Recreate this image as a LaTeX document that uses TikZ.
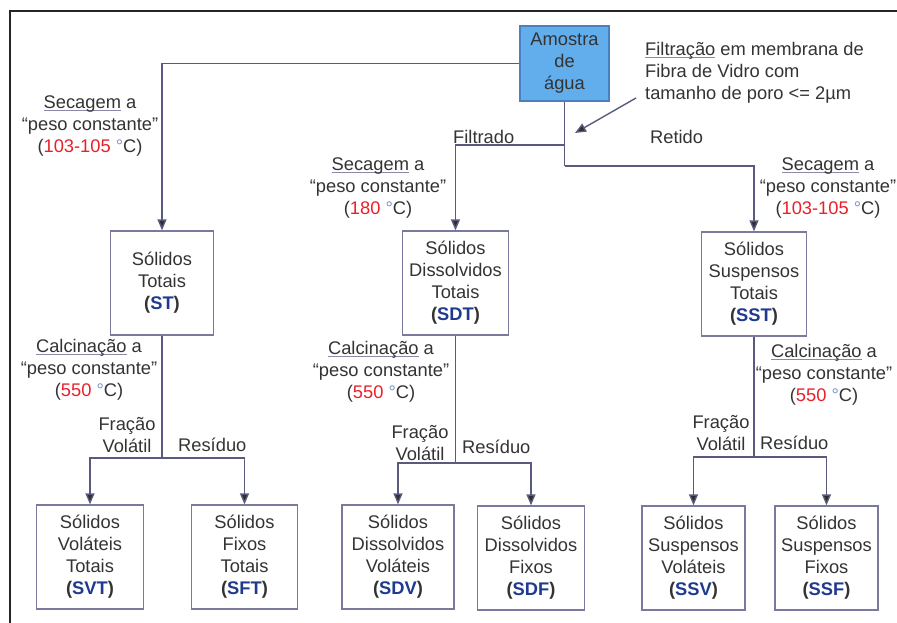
\documentclass[tikz,border=0pt]{standalone}
\usepackage{fontspec}
\setmainfont{Liberation Sans}
\usetikzlibrary{arrows.meta}
\definecolor{txt}{HTML}{333333}
\definecolor{boxc}{HTML}{7A7A9C}
\definecolor{linec}{HTML}{5A5A7E}
\definecolor{redc}{HTML}{E8202A}
\definecolor{bluec}{HTML}{1F3A8F}
\definecolor{degc}{HTML}{7A92C8}
\definecolor{ulc}{HTML}{8A8AA8}
\definecolor{amfill}{HTML}{62AEEC}
\definecolor{amdraw}{HTML}{4A80C0}
\newcommand\ulx[1]{\setbox0\hbox{#1}\rlap{\color{ulc}\rule[-2.6pt]{\wd0}{0.9pt}}\box0\relax}
\newcommand\rn[1]{{\color{redc}#1}}
\newcommand\ab[1]{\textbf{(\textcolor{bluec}{#1})}}
\newcommand\dgc{{\color{degc}°}C}
\begin{document}
\begin{tikzpicture}[x=1pt,y=-1pt,
  every node/.style={font=\fontsize{18.3}{22}\selectfont, text=txt, inner sep=0pt, align=center},
  box/.style={draw=boxc, line width=1.3pt, minimum height=104pt},
  conn/.style={draw=linec, line width=1.4pt},
  arr/.style={conn, -{Triangle[width=9pt,length=11pt,fill=txt!90!black]}}]
\useasboundingbox (0,0) rectangle (897,623);
\draw[line width=2pt, draw=black!85] (10,623) -- (10,11) -- (897,11);

% top box
\node[draw=amdraw, fill=amfill, line width=1.3pt, minimum width=89pt, minimum height=75pt] (am) at (564.5,63.5) {Amostra\\de\\água};
\node[anchor=west, align=left] (filt) at (645,73) {\ulx{Filtração} em membrana de\\Fibra de Vidro com\\tamanho de poro <= 2µm};
\coordinate (ftip) at (575,133);
\coordinate (fsrc) at (636,98);
\draw[arr] (fsrc) -- (ftip);

% level 2 boxes
\node[box, minimum width=103pt] (st) at (162,283) {Sólidos\\Totais\\\ab{ST}};
\node[box, minimum width=106pt] (sdt) at (455.5,283) {Sólidos\\Dissolvidos\\Totais\\\ab{SDT}};
\node[box, minimum width=105pt] (sst) at (754,284) {Sólidos\\Suspensos\\Totais\\\ab{SST}};

% level 3 boxes
\node[box, minimum width=107pt] (svt) at (90,557) {Sólidos\\Voláteis\\Totais\\\ab{SVT}};
\node[box, minimum width=106pt] (sft) at (244.5,557) {Sólidos\\Fixos\\Totais\\\ab{SFT}};
\node[box, minimum width=112pt] (sdv) at (398,557) {Sólidos\\Dissolvidos\\Voláteis\\\ab{SDV}};
\node[box, minimum width=107pt] (sdf) at (531,558) {Sólidos\\Dissolvidos\\Fixos\\\ab{SDF}};
\node[box, minimum width=103pt] (ssv) at (693.5,558) {Sólidos\\Suspensos\\Voláteis\\\ab{SSV}};
\node[box, minimum width=103pt] (ssf) at (826.5,558) {Sólidos\\Suspensos\\Fixos\\\ab{SSF}};

% connectors from sample
\coordinate (j1) at (564.5,145);
\coordinate (j2) at (564.5,166);
\draw[arr] (am.west) -| (st.north);
\draw[conn] (am.south) -- (j2);
\draw[arr] (j2) -| (sst.north);
\draw[arr] (j1) -| (sdt.north);

% lower junctions
\coordinate (stj) at (162,458);
\coordinate (sdj) at (455.5,463);
\coordinate (ssj) at (754,457);
\draw[conn] (st.south) -- (stj);
\draw[arr] (stj) -| (svt.north);
\draw[arr] (stj) -| (sft.north);
\draw[conn] (sdt.south) -- (sdj);
\draw[arr] (sdj) -| (sdv.north);
\draw[arr] (sdj) -| (sdf.north);
\draw[conn] (sst.south) -- (ssj);
\draw[arr] (ssj) -| (ssv.north);
\draw[arr] (ssj) -| (ssf.north);

% labels
\node (sec1) at (90,126) {\ulx{Secagem} a\\“peso constante”\\(\rn{103-105} \dgc)};
\node (sec2) at (378,188) {\ulx{Secagem} a\\“peso constante”\\(\rn{180} \dgc)};
\node (sec3) at (828,188) {\ulx{Secagem} a\\“peso constante”\\(\rn{103-105} \dgc)};
\node (cal1) at (89,370) {\ulx{Calcinação} a\\“peso constante”\\(\rn{550} \dgc)};
\node (cal2) at (381,372) {\ulx{Calcinação} a\\“peso constante”\\(\rn{550} \dgc)};
\node (cal3) at (824,375) {\ulx{Calcinação} a\\“peso constante”\\(\rn{550} \dgc)};
\node[anchor=west] (filtrado) at (453,137) {Filtrado};
\node[anchor=west] (retido) at (650,137) {Retido};
\node (fv1) at (127,435) {Fração\\Volátil};
\node (fv2) at (420,443) {Fração\\Volátil};
\node (fv3) at (721,433) {Fração\\Volátil};
\node[anchor=west] (r1) at (178,445) {Resíduo};
\node[anchor=west] (r2) at (462,447) {Resíduo};
\node[anchor=west] (r3) at (760,443) {Resíduo};
\end{tikzpicture}
\end{document}
